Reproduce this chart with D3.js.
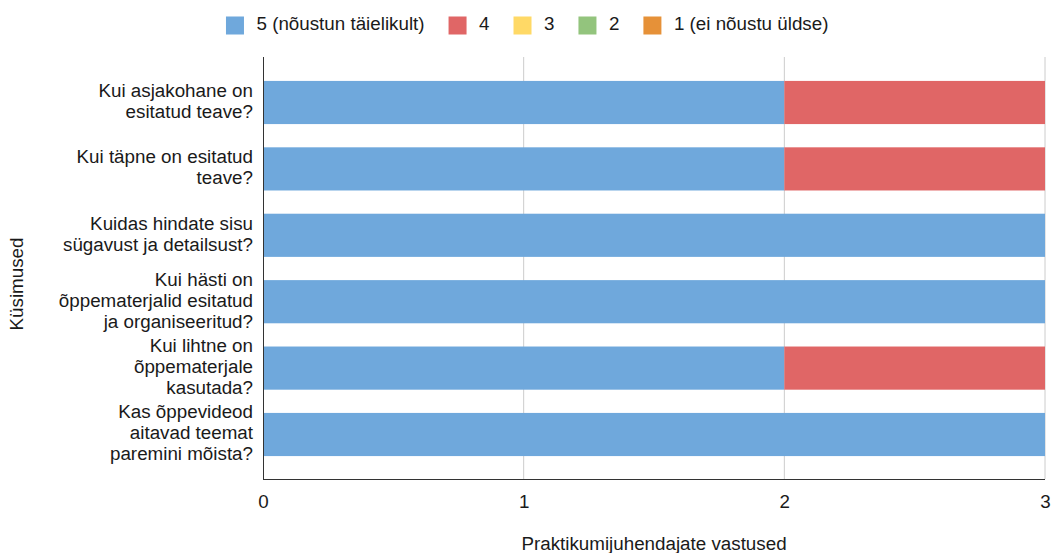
<!DOCTYPE html>
<html>
<head>
<meta charset="utf-8">
<script src="https://cdn.jsdelivr.net/npm/d3@7/dist/d3.min.js"></script>
<style>
  html, body { margin: 0; padding: 0; background: #fff; }
  svg { display: block; font-family: "Liberation Sans", Arial, sans-serif; }
</style>
</head>
<body>
<svg id="chart" width="1051" height="553"></svg>
<script>
// Survey questions (one bar each), each label split into its display lines
const questions = [
  ["Kui asjakohane on", "esitatud teave?"],
  ["Kui täpne on esitatud", "teave?"],
  ["Kuidas hindate sisu", "sügavust ja detailsust?"],
  ["Kui hästi on", "õppematerjalid esitatud", "ja organiseeritud?"],
  ["Kui lihtne on", "õppematerjale", "kasutada?"],
  ["Kas õppevideod", "aitavad teemat", "paremini mõista?"]
];

// Answer scale, from "fully agree" to "do not agree at all"
const seriesNames = ["5 (nõustun täielikult)", "4", "3", "2", "1 (ei nõustu üldse)"];
const seriesColors = ["#6fa8dc", "#e06666", "#ffd966", "#93c47d", "#e69138"];

// Number of responses per answer, per question
const score5 = [2, 2, 3, 3, 2, 3];
const score4 = [1, 1, 0, 0, 1, 0];
const score3 = [0, 0, 0, 0, 0, 0];
const score2 = [0, 0, 0, 0, 0, 0];
const score1 = [0, 0, 0, 0, 0, 0];

const xTicks = [0, 1, 2, 3];
const xTitle = "Praktikumijuhendajate vastused";
const yTitle = "Küsimused";

const svg = d3.select("#chart");
const fontSize = 18.8;
const textColor = "#1a1a1a";

const plot = { left: 263, right: 1045, top: 57, bottom: 479 };

const rows = questions.map((q, i) => ({
  key: i,
  lines: q,
  values: [score5[i], score4[i], score3[i], score2[i], score1[i]]
}));

const x = d3.scaleLinear().domain([0, 3]).range([plot.left, plot.right]);
const y = d3.scaleBand()
  .domain(rows.map(r => r.key))
  .range([69.3, 467.7])
  .paddingInner(0.35)
  .paddingOuter(0.175);

// Vertical gridlines
svg.append("g")
  .selectAll("line")
  .data(xTicks.filter(t => t > 0))
  .join("line")
  .attr("x1", d => x(d)).attr("x2", d => x(d))
  .attr("y1", plot.top).attr("y2", plot.bottom)
  .attr("stroke", "#cccccc").attr("stroke-width", 1);

// Stacked bars
const stackData = rows.map(r => {
  const o = { key: r.key };
  seriesNames.forEach((s, j) => { o[s] = r.values[j]; });
  return o;
});
const stacked = d3.stack().keys(seriesNames)(stackData);

svg.append("g")
  .selectAll("g")
  .data(stacked)
  .join("g")
  .attr("fill", (d, i) => seriesColors[i])
  .selectAll("rect")
  .data(d => d.filter(p => p[1] - p[0] > 0))
  .join("rect")
  .attr("x", d => x(d[0]))
  .attr("width", d => x(d[1]) - x(d[0]))
  .attr("y", d => y(d.data.key))
  .attr("height", y.bandwidth());

// Axis lines
svg.append("line")
  .attr("x1", plot.left + 0.5).attr("x2", plot.left + 0.5)
  .attr("y1", plot.top).attr("y2", plot.bottom)
  .attr("stroke", "#333").attr("stroke-width", 1);
svg.append("line")
  .attr("x1", plot.left).attr("x2", plot.right)
  .attr("y1", plot.bottom + 0.5).attr("y2", plot.bottom + 0.5)
  .attr("stroke", "#333").attr("stroke-width", 1);

// X tick labels
const xAxis = d3.axisBottom(x).tickValues(xTicks).tickSize(0).tickPadding(0).tickFormat(d3.format("d"));
const gx = svg.append("g").attr("transform", `translate(0, ${plot.bottom})`).call(xAxis);
gx.select(".domain").remove();
gx.selectAll("text")
  .attr("y", 0)
  .attr("dy", 0)
  .attr("transform", "translate(0, 24.5)")
  .attr("font-size", fontSize)
  .attr("font-family", "Liberation Sans, Arial, sans-serif")
  .attr("fill", textColor)
  .attr("dominant-baseline", "middle");

// Question labels, right-aligned and centred on each bar
const lineH = 21;
const labels = svg.append("g")
  .selectAll("text")
  .data(rows)
  .join("text")
  .attr("text-anchor", "end")
  .attr("font-size", fontSize)
  .attr("fill", textColor);
labels.each(function(r) {
  const cy = y(r.key) + y.bandwidth() / 2;
  const n = r.lines.length;
  d3.select(this).selectAll("tspan")
    .data(r.lines)
    .join("tspan")
    .attr("x", 253)
    .attr("y", (d, i) => cy + (i - (n - 1) / 2) * lineH)
    .attr("dominant-baseline", "middle")
    .text(d => d);
});

// Axis titles
svg.append("text")
  .attr("x", 654).attr("y", 545)
  .attr("text-anchor", "middle")
  .attr("dominant-baseline", "middle")
  .attr("font-size", fontSize)
  .attr("fill", textColor)
  .text(xTitle);

svg.append("text")
  .attr("transform", "translate(18, 284) rotate(-90)")
  .attr("text-anchor", "middle")
  .attr("dominant-baseline", "middle")
  .attr("font-size", fontSize)
  .attr("fill", textColor)
  .text(yTitle);

// Legend laid out in one centred row
const legend = svg.append("g");
const legendItems = legend.selectAll("g")
  .data(seriesNames)
  .join("g");
legendItems.append("rect")
  .attr("width", 18).attr("height", 18)
  .attr("y", -9)
  .attr("fill", (d, i) => seriesColors[i]);
legendItems.append("text")
  .attr("x", 30.5)
  .attr("dominant-baseline", "middle")
  .attr("font-size", fontSize)
  .attr("fill", textColor)
  .text(d => d);
let cursor = 0;
legendItems.each(function() {
  const w = this.querySelector("text").getComputedTextLength();
  d3.select(this).attr("transform", `translate(${cursor}, 0)`);
  cursor += 30.5 + w + 24;
});
const legendWidth = cursor - 24;
legend.attr("transform", `translate(${(222.7 + 831.7) / 2 - legendWidth / 2}, 25.5)`);
</script>
</body>
</html>
